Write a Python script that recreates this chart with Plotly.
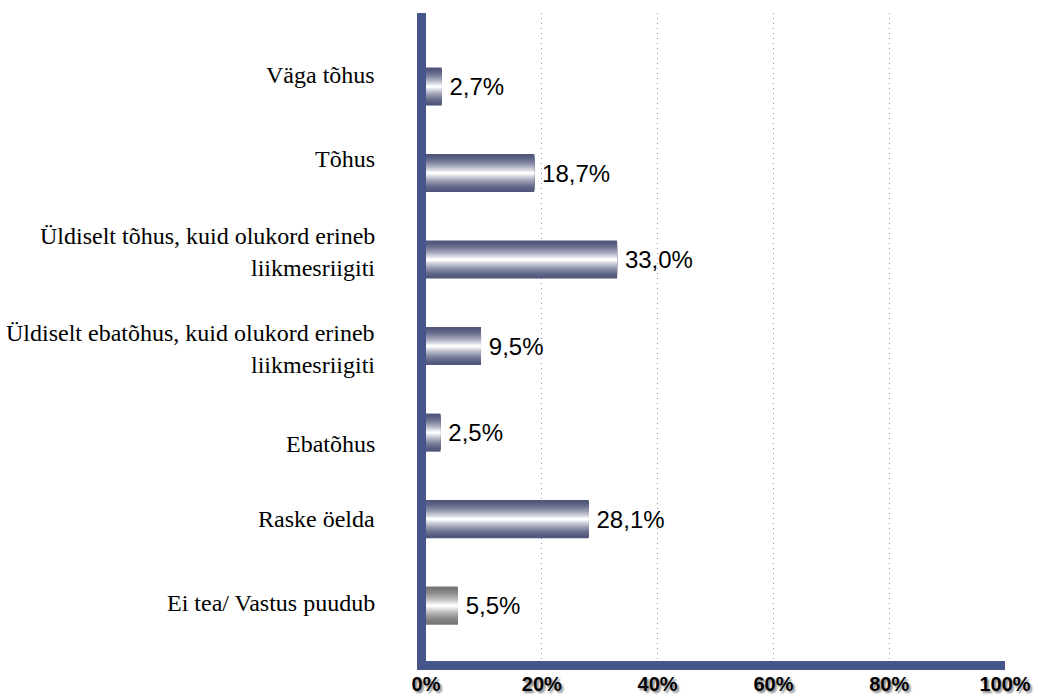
import plotly.graph_objects as go

# ---- data ----
categories = [
    "Väga tõhus",
    "Tõhus",
    "Üldiselt tõhus, kuid olukord erineb<br>liikmesriigiti",
    "Üldiselt ebatõhus, kuid olukord erineb<br>liikmesriigiti",
    "Ebatõhus",
    "Raske öelda",
    "Ei tea/ Vastus puudub",
]
values = [2.7, 18.7, 33.0, 9.5, 2.5, 28.1, 5.5]
value_labels = ["2,7%", "18,7%", "33,0%", "9,5%", "2,5%", "28,1%", "5,5%"]
x_ticks = [0, 20, 40, 60, 80, 100]
x_tick_labels = ["0%", "20%", "40%", "60%", "80%", "100%"]

# ---- style ----
dark_blue = (80, 86, 124)
dark_gray = (118, 118, 118)
bar_kind = ["blue"] * 6 + ["gray"]
label_line_shift = [[12], [14], [24, -8], [13, -19], [-11], [0], [3]]
axis_color = "#46568a"
N_LAYERS = 18
BAR_W = 0.44
SANS = "Liberation Sans, Arial"

cat_ids = list(range(len(categories)))
ypos = [len(categories) - 1 - i for i in cat_ids]


def mix(c, t):
    return "rgb({},{},{})".format(*[int(round(v + (255 - v) * t)) for v in c])


fig = go.Figure()
for k in range(N_LAYERS):
    t = (k / (N_LAYERS - 1)) ** 1.6
    w = BAR_W * (1 - k / N_LAYERS)
    colors = [mix(dark_blue if kind == "blue" else dark_gray, t) for kind in bar_kind]
    fig.add_trace(go.Bar(
        x=values,
        y=ypos,
        orientation="h",
        width=w,
        marker=dict(color=colors, line=dict(width=0)),
        text=["\u2009" + s for s in value_labels] if k == 0 else None,
        textposition="outside" if k == 0 else "none",
        textfont=dict(family=SANS, size=24, color="black"),
        constraintext="none",
        cliponaxis=False,
        showlegend=False,
        hoverinfo="skip",
    ))

annotations = []
for i, cat in enumerate(categories):
    lines = cat.split("<br>")
    for line, shift in zip(lines, label_line_shift[i]):
        annotations.append(dict(
            x=0, xref="x", y=ypos[i], yref="y",
            text=line, showarrow=False,
            xanchor="right", yanchor="middle",
            xshift=-49, yshift=shift,
            font=dict(family="Liberation Serif, Times New Roman", size=24, color="black"),
        ))

fig.update_layout(
    width=1038, height=697,
    margin=dict(l=426, r=33, t=13, b=36),
    paper_bgcolor="white",
    plot_bgcolor="white",
    barmode="overlay",
    annotations=annotations,
)
fig.update_xaxes(
    range=[0, 100],
    tickvals=x_ticks,
    ticktext=x_tick_labels,
    showgrid=True,
    gridcolor="#8f8fcc",
    griddash="1px,4px",
    gridwidth=1,
    zeroline=False,
    showline=True,
    linecolor=axis_color,
    linewidth=9,
    ticks="",
    automargin=False,
    ticklabelstandoff=-3,
    tickfont=dict(family=SANS, size=20, color="black",
                  weight="bold", shadow="2px 2px 2px #888"),
    fixedrange=True,
)
fig.update_yaxes(
    range=[-0.64, 6.85],
    showticklabels=False,
    showgrid=False,
    zeroline=False,
    showline=True,
    linecolor=axis_color,
    linewidth=9,
    ticks="",
    automargin=False,
    fixedrange=True,
)

fig.write_html("out.html")
